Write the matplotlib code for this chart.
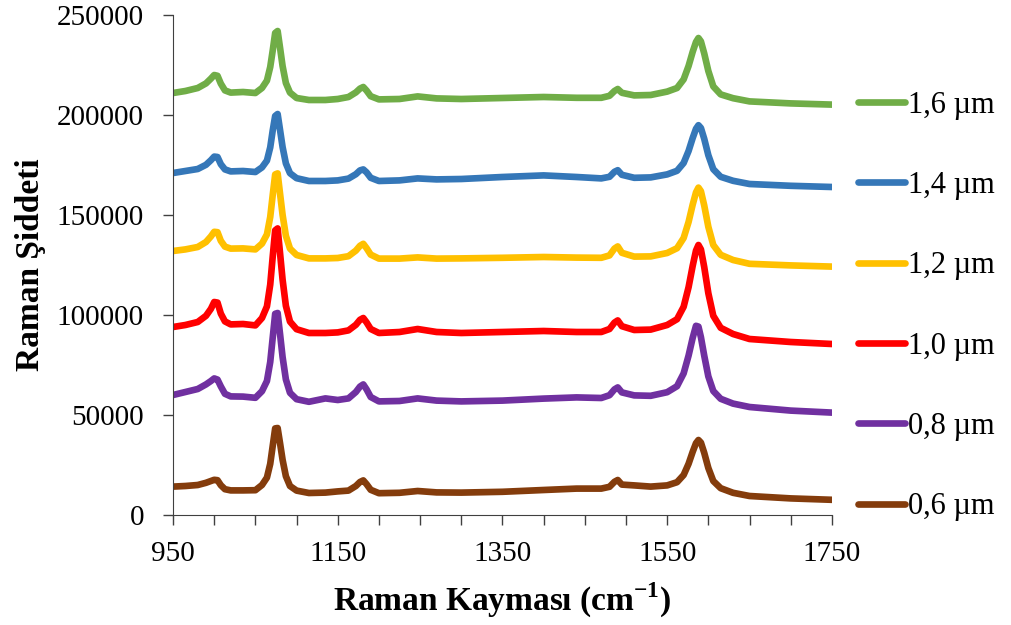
import matplotlib
matplotlib.use("Agg")
import matplotlib.pyplot as plt

# Raman spectra for six thicknesses, stacked with offsets.
shift = [950, 965, 980, 990, 996, 1000, 1004, 1008, 1013, 1020,
         1035, 1050, 1058, 1064, 1068, 1071, 1074, 1077, 1080, 1083,
         1087, 1092, 1100, 1115, 1135, 1150, 1163, 1172, 1177, 1181,
         1185, 1190, 1200, 1225, 1247, 1270, 1300, 1350, 1400, 1440,
         1470, 1480, 1486, 1490, 1495, 1510, 1530, 1550, 1562, 1570,
         1576, 1581, 1585, 1588, 1591, 1595, 1600, 1606, 1615, 1630,
         1650, 1700, 1750]

# intensities in thousands of counts
i16 = [211, 212, 213.5, 215.8, 218.2, 220, 219.6, 215.7, 212.3, 211.2,
       211.5, 211, 213.5, 217.2, 224, 232.2, 241, 242, 233.4, 224.5,
       216, 211.2, 208.5, 207.5, 207.5, 208, 209, 211.3, 213.2, 214,
       212.2, 209.4, 207.8, 208, 209.3, 208.3, 208, 208.5, 209, 208.6,
       208.6, 209.6, 212, 213, 211.1, 209.8, 210, 211.7, 213.5, 217.8,
       224.5, 231.6, 236.5, 238.5, 236.8, 230.8, 222, 214.3, 210.3, 208.4,
       206.8, 205.8, 205.2]
i14 = [171, 172, 173, 175.1, 177.4, 179.2, 179, 175.4, 172.8, 171.8,
       172, 171.5, 173.8, 177.2, 183.8, 192.2, 199.5, 200.5, 192.3, 184,
       175.8, 170.9, 168.4, 167, 167, 167.3, 168.2, 170.4, 172.3, 172.8,
       171.3, 168.6, 167, 167.3, 168.3, 167.8, 168, 169, 169.8, 169,
       168.3, 169.1, 171.6, 172.4, 170.1, 168.6, 168.8, 170.3, 172.1, 176,
       182, 188.5, 193.1, 194.9, 193.5, 188.1, 179.9, 172.9, 169.1, 167.1,
       165.5, 164.6, 164]
i12 = [132, 132.8, 134, 136.5, 139.3, 141.6, 141.4, 137.1, 134.2, 133.2,
       133.3, 132.8, 135.7, 140.3, 149, 159.9, 170.3, 170.8, 160.4, 150.1,
       139.6, 133.2, 130, 128.3, 128.3, 128.5, 129.4, 132.2, 134.6, 135.6,
       133.4, 130.2, 128.2, 128.2, 128.8, 128.2, 128.3, 128.6, 129, 128.7,
       128.6, 129.8, 133.2, 134.3, 131.1, 129.2, 129.3, 131, 133.4, 138.5,
       146.5, 155.2, 161.3, 163.7, 161.9, 154.8, 144.1, 135, 130.1, 127.5,
       125.6, 124.8, 124.2]
i10 = [94, 95, 96.5, 99.6, 103.1, 106.5, 106.2, 100.7, 96.8, 95.3,
       95.5, 94.8, 98.5, 104.3, 115.2, 129.1, 142.3, 143.3, 130.6, 117.7,
       104.6, 96.7, 92.9, 91, 91, 91.3, 92.3, 95.1, 97.6, 98.5,
       96.3, 93, 91, 91.5, 93, 91.5, 91, 91.5, 92, 91.5,
       91.5, 93, 96.2, 97.3, 94.4, 92.5, 92.7, 95, 97.9, 104.1,
       113.9, 124.6, 132.2, 135, 132.8, 124, 110.9, 99.6, 93.6, 90.5,
       88, 86.5, 85.5]
i08 = [60, 61.5, 63, 65.3, 67, 68.3, 67.7, 64.3, 60.6, 59.3,
       59.2, 58.6, 61.9, 67, 76.5, 88.6, 100.6, 101, 90.2, 79,
       67.8, 61.1, 57.9, 56.6, 58.3, 57.5, 58.3, 61.5, 64.2, 65.3,
       62.8, 59, 56.8, 57, 58.3, 57.2, 56.8, 57.2, 58.2, 58.8,
       58.5, 59.9, 62.8, 63.8, 61.3, 59.8, 59.6, 61.4, 64.4, 70.8,
       79.7, 88.6, 94.6, 94.2, 88.9, 79.7, 69.3, 62, 58.1, 55.7,
       54, 52.2, 51.2]
i06 = [14.2, 14.5, 15, 16.1, 17, 17.6, 17.4, 14.9, 12.9, 12.3,
       12.3, 12.4, 15, 18.7, 25.6, 34.5, 43.3, 43.5, 35.7, 27.6,
       19.4, 14.5, 12.2, 11, 11.2, 11.8, 12.2, 14.5, 16.5, 17.3,
       15.4, 12.6, 10.9, 11.1, 12, 11.3, 11.2, 11.6, 12.5, 13.2,
       13.2, 14.1, 16.6, 17.5, 15.2, 14.8, 14.2, 14.8, 16.4, 20,
       25.6, 31.6, 35.9, 37.5, 36.2, 31.1, 23.5, 17, 13.4, 11.1,
       9.5, 8.3, 7.6]

labels = ["1,6 µm", "1,4 µm", "1,2 µm", "1,0 µm", "0,8 µm", "0,6 µm"]
series = [i16, i14, i12, i10, i08, i06]
colors = ["#70AD47", "#3577B8", "#FFC000", "#FF0000", "#7030A0", "#843C0C"]

x_major = [950, 1150, 1350, 1550, 1750]
x_minor = list(range(950, 1751, 50))
y_major = [0, 50000, 100000, 150000, 200000, 250000]

plt.rcParams["font.family"] = ["Liberation Serif", "DejaVu Serif"]

fig = plt.figure(figsize=(10.12, 6.25), dpi=100)
ax = fig.add_axes([0.171, 0.176, 0.651, 0.8])

for vals, lab, col in zip(series, labels, colors):
    ax.plot(shift, [v * 1000 for v in vals], color=col, lw=4.8, label=lab,
            solid_joinstyle="round", solid_capstyle="round")

ax.set_xlim(950, 1750)
ax.set_ylim(0, 250000)
ax.set_xticks(x_major)
ax.set_xticks(x_minor, minor=True)
ax.set_yticks(y_major)
ax.tick_params(axis="both", which="both", direction="out", length=7,
               width=1, color="#404040", labelsize=21)
ax.tick_params(axis="x", pad=12)
ax.tick_params(axis="y", pad=14)
for s in ["top", "right"]:
    ax.spines[s].set_visible(False)
for s in ["left", "bottom"]:
    ax.spines[s].set_color("#404040")

ax.set_xlabel("Raman Kayması (cm$^{\\mathregular{-1}}$)", fontsize=24,
              fontweight="bold", labelpad=10)
ax.set_ylabel("Raman Şiddeti", fontsize=24, fontweight="bold", labelpad=8)

ax.legend(loc="center left", bbox_to_anchor=(1.039, 0.418), frameon=False,
          fontsize=22, labelspacing=1.68, handlelength=1.55,
          handletextpad=0.1, borderaxespad=0, borderpad=0)

fig.savefig("out.png", dpi=100)
